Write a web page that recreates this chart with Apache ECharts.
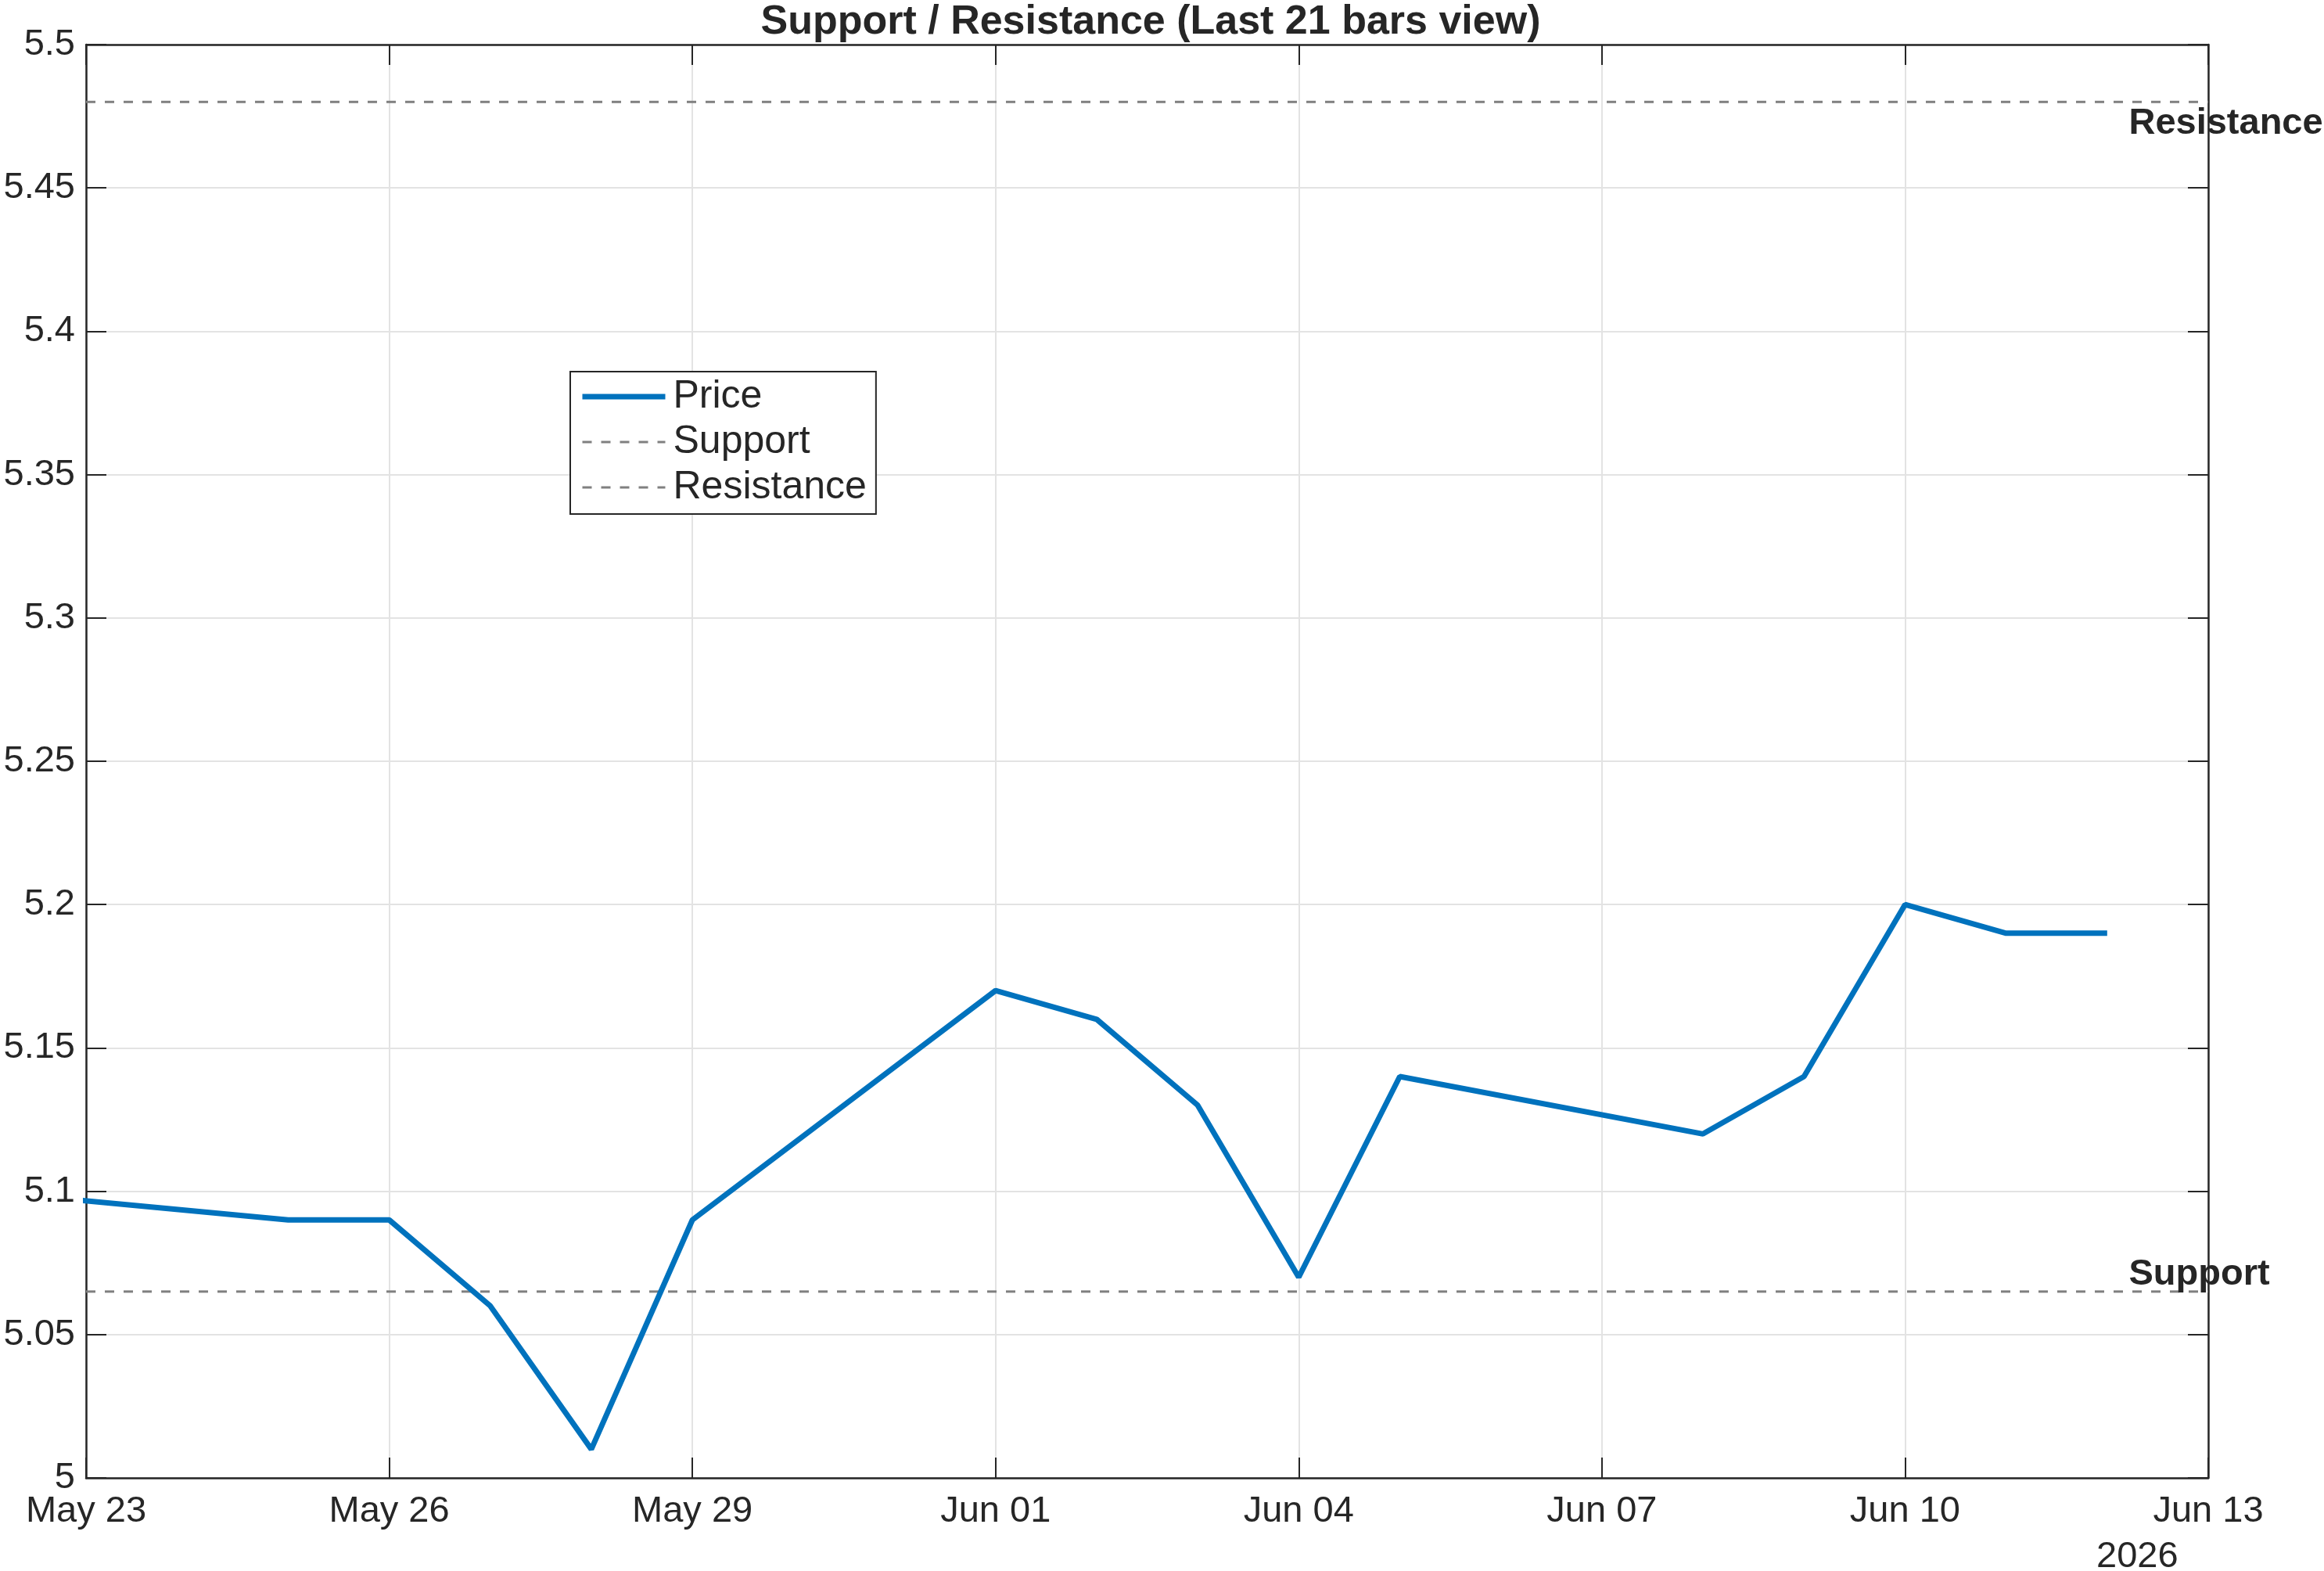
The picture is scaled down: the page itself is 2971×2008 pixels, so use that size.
<!DOCTYPE html>
<html>
<head>
<meta charset="utf-8">
<script src="https://cdn.jsdelivr.net/npm/echarts@6/dist/echarts.min.js"></script>
<style>
html,body{margin:0;padding:0;background:#fff;}
#chart{width:2971px;height:2008px;}
</style>
</head>
<body>
<div id="chart"></div>
<script>
// ---- data ----
const dates = ['2026-05-22','2026-05-25','2026-05-26','2026-05-27','2026-05-28','2026-05-29',
               '2026-06-01','2026-06-02','2026-06-03','2026-06-04','2026-06-05',
               '2026-06-08','2026-06-09','2026-06-10','2026-06-11','2026-06-12'];
const prices = [5.10, 5.09, 5.09, 5.06, 5.01, 5.09,
                5.17, 5.16, 5.13, 5.07, 5.14,
                5.12, 5.14, 5.20, 5.19, 5.19];
const supportLevel = 5.065;
const resistanceLevel = 5.48;
const viewStart = '2026-05-23';
const viewEnd = '2026-06-13';
const titleText = 'Support / Resistance (Last 21 bars view)';
const yearLabel = '2026';

// ---- helpers ----
const DAY = 86400000;
function toUTC(s){ const p = s.split('-').map(Number); return Date.UTC(p[0], p[1]-1, p[2]); }
const t0 = toUTC(viewStart);
function dayOff(s){ return (toUTC(s) - t0) / DAY; }
const xMax = dayOff(viewEnd);
const MONTHS = ['Jan','Feb','Mar','Apr','May','Jun','Jul','Aug','Sep','Oct','Nov','Dec'];
function fmtDay(v){
  const d = new Date(t0 + Math.round(v) * DAY);
  const dd = d.getUTCDate();
  return MONTHS[d.getUTCMonth()] + ' ' + (dd < 10 ? '0' + dd : dd);
}
const priceData = dates.map((d, i) => [dayOff(d), prices[i]]);
const labelX = xMax - 0.79;

const FONT = 'Liberation Sans, Arial, Helvetica, sans-serif';
const DARK = '#262626';
const GRID = '#e3e3e3';
const BLUE = '#0072BD';
const GRAY = '#808080';
const PRICE_W = 7;
const LEVEL_W = 3;
const DASH = [12, 12];

const chart = echarts.init(document.getElementById('chart'));
const axisLineStyle = { show: true, onZero: false, lineStyle: { color: DARK, width: 2.5 } };
const tickStyle = { show: true, inside: true, length: 26, lineStyle: { color: DARK, width: 2 } };
const baseX = { type: 'value', min: 0, max: xMax, interval: 3, axisLine: axisLineStyle, axisTick: tickStyle };
const baseY = { type: 'value', min: 5, max: 5.5, interval: 0.05, axisLine: axisLineStyle, axisTick: tickStyle };

chart.setOption({
  animation: false,
  backgroundColor: '#fff',
  textStyle: { fontFamily: FONT },
  title: {
    text: titleText, left: 1466, top: -2, textAlign: 'center',
    textStyle: { fontSize: 52, fontWeight: 'bold', color: DARK, fontFamily: FONT }
  },
  grid: { left: 110, right: 148, top: 57, bottom: 119, containLabel: false, outerBoundsMode: 'none' },
  legend: {
    orient: 'vertical', left: 729, top: 475,
    padding: [7, 12, 9, 12], itemGap: 8, itemWidth: 106, itemHeight: 20,
    backgroundColor: '#fff', borderColor: DARK, borderWidth: 2, borderRadius: 0,
    itemStyle: { opacity: 0 },
    textStyle: { fontSize: 50, color: DARK, fontFamily: FONT, padding: [0, 0, 0, 5] },
    data: [
      { name: 'Price', lineStyle: { width: PRICE_W, color: BLUE } },
      { name: 'Support', lineStyle: { width: LEVEL_W, color: GRAY, type: DASH } },
      { name: 'Resistance', lineStyle: { width: LEVEL_W, color: GRAY, type: DASH } }
    ]
  },
  xAxis: [
    Object.assign({}, baseX, {
      position: 'bottom',
      axisLabel: { show: true, fontSize: 47, color: DARK, margin: 20, formatter: fmtDay,
                   showMinLabel: true, showMaxLabel: true },
      splitLine: { show: true, lineStyle: { color: GRID, width: 2 } }
    }),
    Object.assign({}, baseX, {
      position: 'top',
      axisLabel: { show: false }, splitLine: { show: false }
    })
  ],
  yAxis: [
    Object.assign({}, baseY, {
      position: 'left',
      axisLabel: { show: true, fontSize: 47, color: DARK, margin: 14,
                   formatter: v => String(parseFloat(v.toFixed(2))) },
      splitLine: { show: true, lineStyle: { color: GRID, width: 2 } }
    }),
    Object.assign({}, baseY, {
      position: 'right',
      axisLabel: { show: false }, splitLine: { show: false }
    })
  ],
  graphic: [{
    type: 'text', left: 2680, top: 1967,
    style: { text: yearLabel, fontSize: 47, fill: DARK, fontFamily: FONT }
  }],
  series: [
    {
      name: 'Price', type: 'line', data: priceData, symbol: 'none', clip: true,
      lineStyle: { color: BLUE, width: PRICE_W }, itemStyle: { color: BLUE }, z: 5
    },
    {
      name: 'Support', type: 'line', symbol: 'none', clip: true,
      data: [[0, supportLevel], [xMax, supportLevel]],
      lineStyle: { color: GRAY, width: LEVEL_W, type: DASH }, itemStyle: { color: GRAY },
      markPoint: {
        symbol: 'circle', symbolSize: 1, itemStyle: { color: 'rgba(0,0,0,0)' },
        label: { show: true, position: 'right', distance: 0, offset: [0, -22],
                 fontSize: 47, fontWeight: 'bold', color: DARK, fontFamily: FONT,
                 formatter: 'Support' },
        data: [{ coord: [labelX, supportLevel] }]
      }
    },
    {
      name: 'Resistance', type: 'line', symbol: 'none', clip: true,
      data: [[0, resistanceLevel], [xMax, resistanceLevel]],
      lineStyle: { color: GRAY, width: LEVEL_W, type: DASH }, itemStyle: { color: GRAY },
      markPoint: {
        symbol: 'circle', symbolSize: 1, itemStyle: { color: 'rgba(0,0,0,0)' },
        label: { show: true, position: 'right', distance: 0, offset: [0, 28],
                 fontSize: 47, fontWeight: 'bold', color: DARK, fontFamily: FONT,
                 formatter: 'Resistance' },
        data: [{ coord: [labelX, resistanceLevel] }]
      }
    }
  ]
});
</script>
</body>
</html>
